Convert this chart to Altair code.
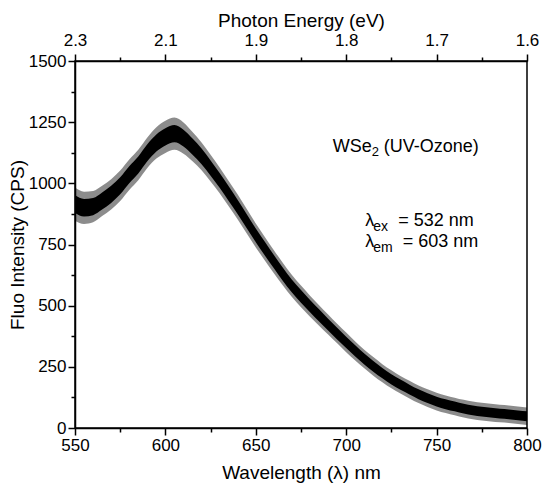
import altair as alt
import pandas as pd

# ---- data ----
wavelength = list(range(550, 801, 5))
intensity = [915, 900, 905, 928, 955, 990, 1035, 1075, 1125, 1165,
             1190, 1203, 1185, 1150, 1110, 1062, 1012, 958, 903, 845,
             787, 733, 680, 628, 580, 538, 498, 460, 423, 386,
             350, 315, 282, 252, 224, 199, 177, 157, 138, 122,
             108, 97, 88, 79, 72, 67, 63, 59, 56, 52, 48]
# half-width of the dense noise core and of the noise spikes
core_halfwidth = [36, 36, 35, 35, 35, 35, 35, 35, 35, 35,
                  35, 35, 34, 33, 32, 31, 30, 30, 29, 29,
                  28, 28, 27, 27, 26, 26, 25, 25, 24, 24,
                  23, 23, 22, 22, 21, 21, 21, 20, 20, 20,
                  20, 20, 20, 20, 20, 20, 20, 20, 20, 20, 20]
spike_halfwidth = [68, 66, 64, 62, 62, 62, 62, 62, 62, 64,
                   66, 66, 64, 60, 57, 55, 53, 52, 51, 50,
                   49, 48, 47, 46, 45, 44, 43, 42, 41, 40,
                   40, 39, 38, 38, 37, 37, 36, 36, 36, 36,
                   36, 36, 36, 36, 36, 36, 36, 36, 36, 36, 36]

x_major = [550, 600, 650, 700, 750, 800]
x_minor = [575, 625, 675, 725, 775]
energy_labels = ["2.3", "2.1", "1.9", "1.8", "1.7", "1.6"]
y_major = [0, 250, 500, 750, 1000, 1250, 1500]
y_minor = [125, 375, 625, 875, 1125, 1375]

df = pd.DataFrame({"wl": wavelength, "I": intensity,
                   "core": core_halfwidth, "spike": spike_halfwidth})
df["core_lo"] = df["I"] - df["core"]
df["core_hi"] = df["I"] + df["core"]
df["spike_lo"] = df["I"] - df["spike"]
df["spike_hi"] = df["I"] + df["spike"]

FONT = "Liberation Sans"
xscale = alt.Scale(domain=[550, 800], nice=False, zero=False)
yscale = alt.Scale(domain=[0, 1500], nice=False, zero=True)

common = dict(grid=False, domainColor="black", domainWidth=1.5,
              tickColor="black", tickWidth=1.5, labelFont=FONT,
              labelFontSize=17, labelColor="black", titleFont=FONT,
              titleFontSize=19, titleColor="black", titleFontWeight="normal",
              labelFlush=False, labelOverlap=False)

energy_expr = "''"
for wl, lab in reversed(list(zip(x_major, energy_labels))):
    energy_expr = f"datum.value == {wl} ? '{lab}' : ({energy_expr})"

ax_bottom = alt.Axis(orient="bottom", values=x_major, tickSize=7, labelPadding=2,
                     format="d", title="Wavelength (λ) nm", titlePadding=10, **common)
ax_bottom_minor = alt.Axis(orient="bottom", values=x_minor, tickSize=4, labels=False,
                           domain=False, title=None, **common)
ax_top = alt.Axis(orient="top", values=x_major, tickSize=7, labelPadding=5,
                  labelExpr=energy_expr, title="Photon Energy (eV)", titlePadding=1, **common)
ax_top_minor = alt.Axis(orient="top", values=x_minor, tickSize=4, labels=False,
                        domain=False, title=None, **common)
ax_left = alt.Axis(orient="left", values=y_major, tickSize=7, labelPadding=2,
                   format="d", title="Fluo Intensity (CPS)", titlePadding=1, **common)
ax_left_minor = alt.Axis(orient="left", values=y_minor, tickSize=4, labels=False,
                         domain=False, title=None, **common)

base = alt.Chart(df)
outer = base.mark_area(color="black", opacity=0.45, interpolate="monotone").encode(
    x=alt.X("wl:Q", scale=xscale, axis=ax_bottom),
    y=alt.Y("spike_lo:Q", scale=yscale, axis=ax_left),
    y2="spike_hi:Q",
)
inner = base.mark_area(color="black", interpolate="monotone").encode(
    x=alt.X("wl:Q", scale=xscale, axis=ax_bottom_minor),
    y=alt.Y("core_lo:Q", scale=yscale, axis=ax_left_minor),
    y2="core_hi:Q",
)
top = base.mark_point(opacity=0).encode(
    x=alt.X("wl:Q", scale=xscale, axis=ax_top),
    y=alt.Y("I:Q", scale=yscale, axis=None),
)
top_minor = base.mark_point(opacity=0).encode(
    x=alt.X("wl:Q", scale=xscale, axis=ax_top_minor),
    y=alt.Y("I:Q", scale=yscale, axis=None),
)


def label(text, wl, val, size=18, dx=0, dy=0):
    d = pd.DataFrame({"x": [wl], "y": [val], "t": [text]})
    return alt.Chart(d).mark_text(align="left", baseline="alphabetic", font=FONT,
                                  fontSize=size, color="black", dx=dx, dy=dy).encode(
        x=alt.X("x:Q", scale=xscale, axis=None),
        y=alt.Y("y:Q", scale=yscale, axis=None),
        text="t:N",
    )


anns = [
    label("WSe", 692.5, 1128),
    label("2", 692.5, 1128, size=13, dx=39, dy=4),
    label("(UV-Ozone)", 692.5, 1128, dx=51),
    label("λ", 710.5, 826),
    label("ex", 710.5, 826, size=14, dx=8, dy=5),
    label("= 532 nm", 710.5, 826, dx=33),
    label("λ", 710.5, 740),
    label("em", 710.5, 740, size=14, dx=8, dy=5),
    label("= 603 nm", 710.5, 740, dx=37.5),
]

chart = alt.layer(outer, inner, top, top_minor, *anns).resolve_axis(
    x="independent", y="independent"
).properties(
    width=452, height=367,
    autosize=alt.AutoSizeParams(type="none"),
    padding={"left": 67, "top": 53, "right": 15, "bottom": 55},
    background="white",
).configure_view(stroke="black", strokeWidth=1.5)

chart.save("out.html", embed_options={"renderer": "svg", "actions": False})
